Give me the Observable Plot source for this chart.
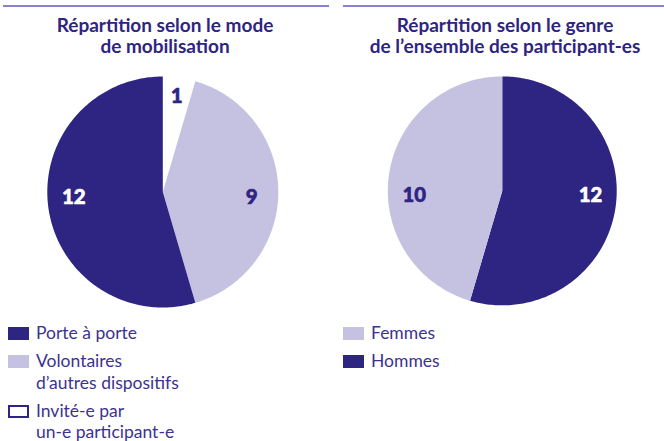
<!DOCTYPE html>
<html>
<head>
<meta charset="utf-8">
<script src="https://cdn.jsdelivr.net/npm/d3@7"></script>
<script src="https://cdn.jsdelivr.net/npm/@observablehq/plot@0.6"></script>
<style>
  html, body { margin: 0; padding: 0; background: #fff; }
  body { width: 664px; height: 441px; position: relative; overflow: hidden; font-family: "Lato", "Noto Sans", sans-serif; color: #2e2482; }
  .col { position: absolute; top: 0; }
  .rule { position: absolute; top: 5px; height: 2px; background: #8983c9; }
  .title { position: absolute; top: 14px; text-align: center; font-weight: 700; font-size: 19px; line-height: 21px; color: #2e2482; white-space: nowrap; }
  .pie { position: absolute; top: 70px; left: 0; }
  .legend { position: absolute; top: 322px; }
  .item { position: relative; padding-left: 28px; font-size: 17.5px; line-height: 21.5px; color: #3b338f; margin-bottom: 6.5px; }
  .sw { position: absolute; left: 0; top: 5px; width: 21px; height: 13px; box-sizing: border-box; }
</style>
</head>
<body>
<div id="root"></div>
<script>
// ---- data ----
const modeCategories = ["Invité-e par un-e participant-e", "Volontaires d’autres dispositifs", "Porte à porte"];
const modeValues = [1, 9, 12];
const modeLegend = ["Porte à porte", "Volontaires<br>d’autres dispositifs", "Invité-e par<br>un-e participant-e"];
const modeLegendOrder = [2, 1, 0];

const genreCategories = ["Hommes", "Femmes"];
const genreValues = [12, 10];
const genreLegend = ["Femmes", "Hommes"];
const genreLegendOrder = [1, 0];

const titles = ["Répartition selon le mode<br>de mobilisation", "Répartition selon le genre<br>de l’ensemble des participant-es"];

// ---- styles ----
const DARK = "#2e2482", LIGHT = "#c5c1e0", WHITE = "#ffffff";
const modeColors = [WHITE, LIGHT, DARK];
const genreColors = [DARK, LIGHT];

function pieChart(categories, values, colors, cx) {
  const total = d3.sum(values);
  const slices = [];
  let acc = 0;
  values.forEach((v, i) => { slices.push({cat: categories[i], value: v, a0: acc / total * 2 * Math.PI, a1: (acc + v) / total * 2 * Math.PI, color: colors[i]}); acc += v; });
  const pts = [];
  for (const s of slices) {
    pts.push({cat: s.cat, x: 0, y: 0});
    const n = Math.max(2, Math.ceil((s.a1 - s.a0) / (Math.PI / 180)));
    for (let k = 0; k <= n; k++) {
      const a = s.a0 + (s.a1 - s.a0) * k / n;
      pts.push({cat: s.cat, x: Math.sin(a), y: Math.cos(a)});
    }
  }
  const labels = slices.map(s => {
    let a = (s.a0 + s.a1) / 2, rr = 0.84, horiz = false;
    if (s.a0 <= Math.PI / 2 && s.a1 >= Math.PI / 2) { a = Math.PI / 2; rr = 0.77; horiz = true; }
    else if (s.a0 <= 3 * Math.PI / 2 && s.a1 >= 3 * Math.PI / 2) { a = 3 * Math.PI / 2; rr = 0.77; horiz = true; }
    return {x: Math.sin(a) * rr, y: Math.cos(a) * rr, horiz, text: String(s.value), fill: s.color === DARK ? "#ffffff" : DARK};
  });
  const r = 115.5, cy = 121.5;
  const textOpts = {x: "x", y: "y", text: "text", fill: d => d.fill, fontSize: 20.5, fontWeight: 900, fontFamily: "Lato", stroke: d => d.fill, strokeWidth: 0.6};
  return Plot.plot({
    width: 332, height: 240,
    margin: 0,
    x: {domain: [-1, 1], range: [cx - r, cx + r], axis: null},
    y: {domain: [-1, 1], range: [cy + r, cy - r], axis: null},
    color: {domain: categories, range: colors},
    style: {background: "transparent"},
    marks: [
      Plot.line(pts, {x: "x", y: "y", z: "cat", fill: "cat", stroke: null, curve: "linear-closed"}),
      Plot.text(labels.filter(d => !d.horiz), {...textOpts, dy: 0}),
      Plot.text(labels.filter(d => d.horiz), {...textOpts, dy: 5})
    ]
  });
}

const root = document.getElementById("root");
function column(left, width, ruleLeft, ruleWidth, titleCenter, title, svg, legendItems) {
  const col = document.createElement("div");
  col.className = "col"; col.style.left = left + "px"; col.style.width = width + "px"; col.style.height = "441px";
  const rule = document.createElement("div"); rule.className = "rule"; rule.style.left = ruleLeft + "px"; rule.style.width = ruleWidth + "px";
  col.appendChild(rule);
  const t = document.createElement("div"); t.className = "title"; t.innerHTML = title;
  t.style.left = (titleCenter - 160) + "px"; t.style.width = "320px";
  col.appendChild(t);
  const p = document.createElement("div"); p.className = "pie"; p.appendChild(svg); col.appendChild(p);
  const lg = document.createElement("div"); lg.className = "legend"; lg.style.left = "8px";
  for (const it of legendItems) {
    const d = document.createElement("div"); d.className = "item";
    const sw = document.createElement("span"); sw.className = "sw";
    if (it.color === WHITE) { sw.style.border = "2.5px solid " + DARK; sw.style.background = "#fff"; }
    else sw.style.background = it.color;
    d.appendChild(sw);
    const tx = document.createElement("span"); tx.innerHTML = it.label; d.appendChild(tx);
    lg.appendChild(d);
  }
  col.appendChild(lg);
  root.appendChild(col);
}

column(0, 332, 3, 326, 165, titles[0], pieChart(modeCategories, modeValues, modeColors, 162.3),
  modeLegendOrder.map((i, k) => ({label: modeLegend[k], color: modeColors[i]})));
column(335, 329, 8, 321, 170, titles[1], pieChart(genreCategories, genreValues, genreColors, 168.3),
  genreLegendOrder.map((i, k) => ({label: genreLegend[k], color: genreColors[i]})));
</script>
</body>
</html>
